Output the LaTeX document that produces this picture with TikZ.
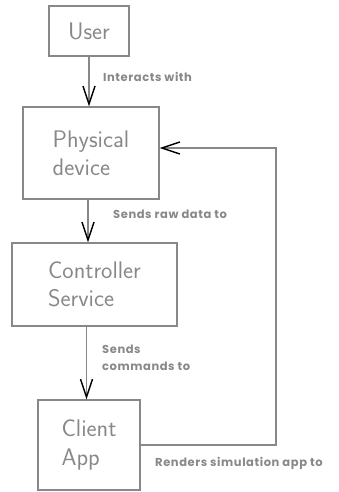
\documentclass[tikz,border=0pt]{standalone}
\usepackage{fontspec}
\usetikzlibrary{arrows.meta}
\newfontfamily\lblfont{Poppins}[LetterSpace=5]
\definecolor{boxgray}{HTML}{888888}
\begin{document}
\begin{tikzpicture}[x=1pt,y=1pt,
  box/.style={draw=boxgray, line width=1.4pt, text=boxgray, font=\sffamily\fontsize{24}{28}\selectfont, align=left, inner sep=0pt},
  lbl/.style={text=boxgray, font=\lblfont\bfseries\fontsize{11.5}{16.5}\selectfont, align=left, anchor=west, inner sep=0pt},
  link/.style={draw=boxgray, line width=1.4pt, -{Straight Barb[length=18pt,width=12pt,line width=1.4pt,color=black]}}]
\useasboundingbox (0,0) rectangle (339,492);
\node[box, minimum width=80, minimum height=50] (User) at (89, 461) {User};
\node[box, minimum width=136, minimum height=92] (Physical_device) at (91, 339) {Physical\\device};
\node[box, minimum width=165, minimum height=83] (Controller_Service) at (94.5, 207.5) {Controller\\Service};
\node[box, minimum width=102, minimum height=90] (Client_App) at (89, 47) {Client\\App};
\coordinate (Loop_corner) at (276, 344);
\draw[link] (User.south) -- (User.south |- Physical_device.north);
\draw[link] ([xshift=-3pt]Physical_device.south) -- ([xshift=-3pt]Physical_device.south |- Controller_Service.north);
\draw[link] ([xshift=-8pt]Controller_Service.south) -- ([xshift=-8pt]Controller_Service.south |- Client_App.north);
\draw[link] (Client_App.east) -- (Client_App.east -| Loop_corner) -- (Loop_corner) -- (Loop_corner -| Physical_device.east);
\node[lbl] (Interacts_with) at (103, 415) {Interacts with};
\node[lbl] (Sends_raw_data) at (113, 278) {Sends raw data to};
\node[lbl] (Sends_commands) at (102, 134) {Sends\\commands to};
\node[lbl] (Renders_app) at (155, 29) {Renders simulation app to};
\end{tikzpicture}
\end{document}
